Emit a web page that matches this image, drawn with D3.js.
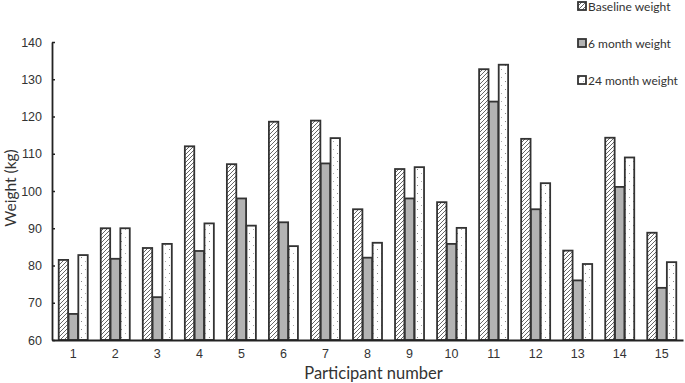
<!DOCTYPE html>
<html>
<head>
<meta charset="utf-8">
<script src="https://cdn.jsdelivr.net/npm/d3@7"></script>
<style>
  body { margin: 0; background: #fff; }
  svg { font-family: Lato, "Open Sans", sans-serif; }
</style>
</head>
<body>
<div id="chart"></div>
<script>
const participants = ["1","2","3","4","5","6","7","8","9","10","11","12","13","14","15"];
const seriesNames = ["Baseline weight", "6 month weight", "24 month weight"];
const baseline = [81.5, 90, 84.7, 112, 107.2, 118.6, 118.9, 95.1, 105.9, 97, 132.7, 114, 84, 114.3, 88.8];
const month6 = [67, 81.8, 71.5, 83.9, 98, 91.6, 107.4, 82.1, 98, 85.8, 124, 95.1, 76, 101.1, 74];
const month24 = [82.8, 90, 85.8, 91.3, 90.7, 85.2, 114.2, 86.1, 106.4, 90.1, 133.9, 102.1, 80.4, 109, 80.9];
const yTicks = [60, 70, 80, 90, 100, 110, 120, 130, 140];

const W = 685, H = 383;
const plot = { left: 52, right: 683, top: 42, bottom: 340 };

const svg = d3.select("#chart").append("svg")
    .attr("width", W)
    .attr("height", H);

const defs = svg.append("defs");
// diagonal hatch for baseline
const hatch = defs.append("pattern")
    .attr("id", "hatch")
    .attr("patternUnits", "userSpaceOnUse")
    .attr("width", 4).attr("height", 4);
hatch.append("rect").attr("width", 4).attr("height", 4).attr("fill", "#fff");
hatch.append("path")
    .attr("d", "M-1,1 l2,-2 M0,4 l4,-4 M3,5 l2,-2")
    .attr("stroke", "#555").attr("stroke-width", 0.9);
// sparse dots for 24 month
const dots = defs.append("pattern")
    .attr("id", "dots")
    .attr("patternUnits", "userSpaceOnUse")
    .attr("width", 8).attr("height", 8);
dots.append("rect").attr("width", 8).attr("height", 8).attr("fill", "#fff");
dots.append("rect").attr("x", 1).attr("y", 1).attr("width", 1).attr("height", 1).attr("fill", "#888");
dots.append("rect").attr("x", 5).attr("y", 5).attr("width", 1).attr("height", 1).attr("fill", "#aaa");

const fills = ["url(#hatch)", "#b3b3b3", "url(#dots)"];

const x = d3.scaleBand()
    .domain(participants)
    .range([plot.left, plot.right])
    .paddingInner(0.31)
    .paddingOuter(0.16);

const xSub = d3.scaleBand()
    .domain(seriesNames)
    .range([0, x.bandwidth()])
    .paddingInner(0.04);

const y = d3.scaleLinear()
    .domain([60, 140])
    .range([plot.bottom, plot.top]);

const data = [baseline, month6, month24];

data.forEach((vals, s) => {
  svg.append("g").selectAll("rect")
    .data(vals)
    .join("rect")
    .attr("x", (d, i) => x(participants[i]) + xSub(seriesNames[s]))
    .attr("y", d => y(d))
    .attr("width", xSub.bandwidth())
    .attr("height", d => y(60) - y(d))
    .attr("fill", fills[s])
    .attr("stroke", "#333")
    .attr("stroke-width", 1.8);
});

// y axis
const yAxis = svg.append("g")
    .attr("transform", `translate(${plot.left},0)`)
    .call(d3.axisLeft(y).tickValues(yTicks).tickSizeInner(-3).tickSizeOuter(0).tickPadding(10));
yAxis.select(".domain").attr("stroke", "#222").attr("stroke-width", 1.8);
yAxis.selectAll(".tick line").attr("stroke", "#222").attr("stroke-width", 1.5);
yAxis.selectAll("text").attr("font-size", 12.5).attr("fill", "#333");

// x axis
const xAxis = svg.append("g")
    .attr("transform", `translate(0,${plot.bottom})`)
    .call(d3.axisBottom(x).tickSize(0).tickPadding(9));
xAxis.select(".domain").attr("stroke", "#222").attr("stroke-width", 1.8);
xAxis.selectAll("text").attr("font-size", 12.5).attr("fill", "#333");

// axis titles
svg.append("text")
    .attr("transform", `translate(16,${(plot.top + plot.bottom) / 2 - 3}) rotate(-90)`)
    .attr("text-anchor", "middle")
    .attr("font-size", 15.5)
    .attr("fill", "#333")
    .text("Weight (kg)");

svg.append("text")
    .attr("x", (plot.left + plot.right) / 2 + 6)
    .attr("y", 379)
    .attr("text-anchor", "middle")
    .attr("font-size", 16.5)
    .attr("fill", "#333")
    .text("Participant number");

// legend
const legend = svg.append("g").attr("transform", "translate(578,0)");
seriesNames.forEach((name, i) => {
  const g = legend.append("g").attr("transform", `translate(0,${2 + i * 37})`);
  g.append("rect")
    .attr("width", 8).attr("height", 8)
    .attr("fill", fills[i])
    .attr("stroke", "#333").attr("stroke-width", 1.8);
  g.append("text")
    .attr("x", 10).attr("y", 8.5)
    .attr("font-size", 12)
    .attr("fill", "#333")
    .text(name);
});
</script>
</body>
</html>
